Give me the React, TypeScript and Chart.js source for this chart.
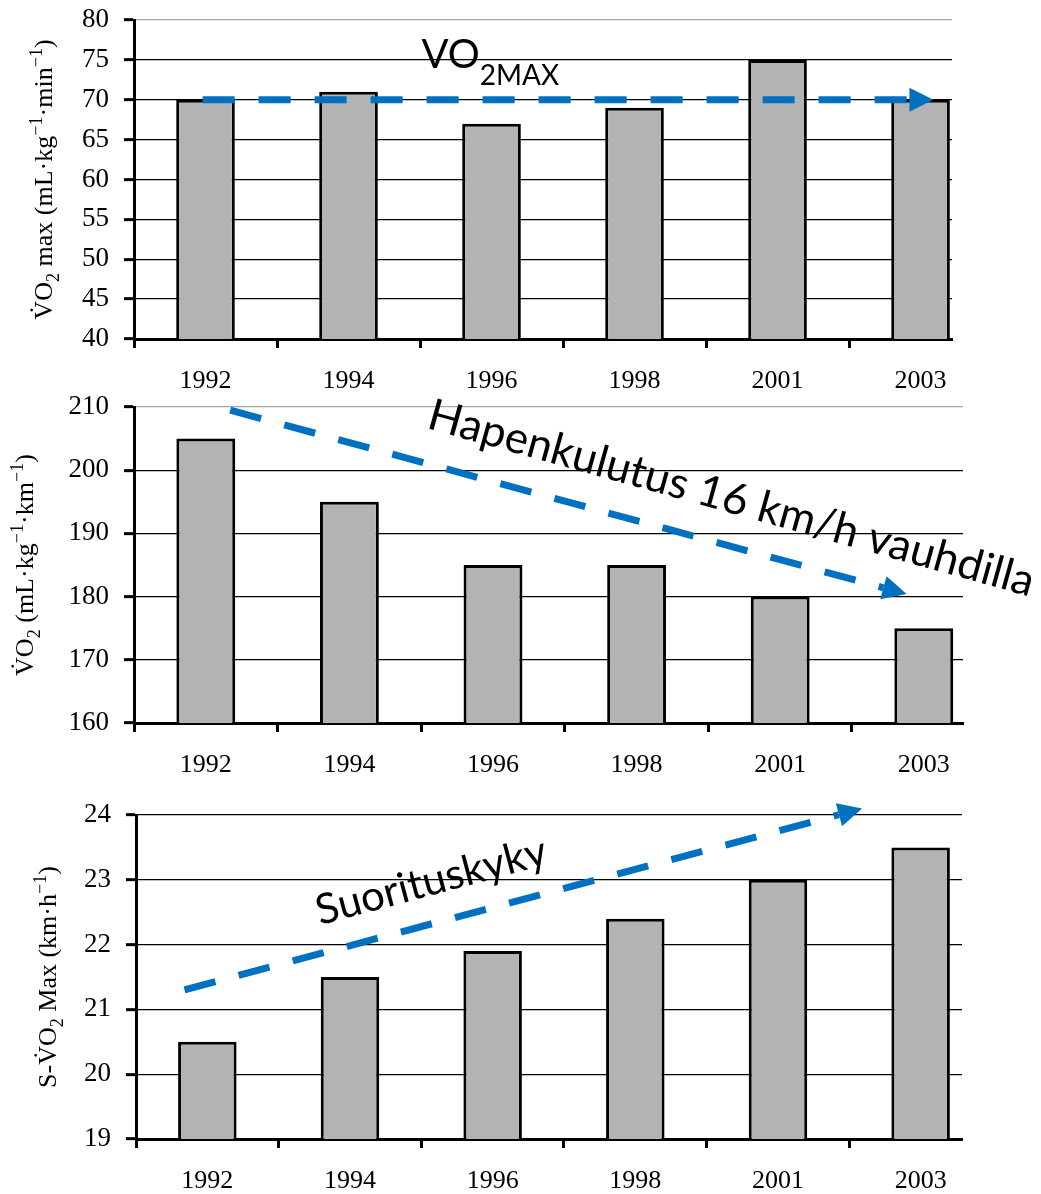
import React, { useEffect, useRef } from 'react';
import { Chart, registerables } from 'chart.js';

Chart.register(...registerables);

// ---------- data ----------
const years = ['1992', '1994', '1996', '1998', '2001', '2003'];
const vo2maxValues = [70, 71, 67, 69, 75, 70];
const vo2CostValues = [205, 195, 185, 185, 180, 175];
const speedValues = [20.5, 21.5, 21.9, 22.4, 23.0, 23.5];

const vo2maxTicks = [40, 45, 50, 55, 60, 65, 70, 75, 80];
const vo2CostTicks = [160, 170, 180, 190, 200, 210];
const speedTicks = [19, 20, 21, 22, 23, 24];

// trend arrows: [start, tip] as [category index, value]
const vo2maxTrend = [[-0.02, 70], [5.09, 70]];
const vo2CostTrend = [[0.17, 209.5], [4.88, 180.4]];
const speedTrend = [[-0.16, 21.3], [4.59, 24.1]];

// annotation anchors (baseline start) as [category index, value]
const vo2maxLabelAt = [1.51, 74.0];
const vo2CostLabelAt = [1.53, 206.7];
const speedLabelAt = [0.79, 22.3];

// ---------- styles ----------
const SERIF = '"Liberation Serif", "Times New Roman", serif';
const SANS = 'Lato, "Open Sans", sans-serif';
const BLUE = '#0070C0';
const BAR_FILL = '#b3b3b3';
const W = 1041;
const TOP_PAD = 40;

type Seg = { t: string; s?: number; dy?: number };

function drawRich(ctx: CanvasRenderingContext2D, segs: Seg[], size: number, family: string, align: 'left' | 'center') {
  const widths = segs.map((sg) => {
    ctx.font = `${size * (sg.s ?? 1)}px ${family}`;
    return ctx.measureText(sg.t).width;
  });
  const total = widths.reduce((a, b) => a + b, 0);
  let cx = align === 'center' ? -total / 2 : 0;
  ctx.textAlign = 'left';
  ctx.textBaseline = 'alphabetic';
  segs.forEach((sg, i) => {
    ctx.font = `${size * (sg.s ?? 1)}px ${family}`;
    ctx.fillText(sg.t, cx, (sg.dy ?? 0) * size);
    cx += widths[i];
  });
}

const SUB = 0.7;
const vo2maxTitle: Seg[] = [
  { t: 'V\u0307O' }, { t: '2', s: SUB, dy: 0.28 }, { t: ' max (mL·kg' }, { t: '−1', s: SUB, dy: -0.4 },
  { t: '·min' }, { t: '−1', s: SUB, dy: -0.4 }, { t: ')' },
];
const vo2CostTitle: Seg[] = [
  { t: 'V\u0307O' }, { t: '2', s: SUB, dy: 0.28 }, { t: ' (mL·kg' }, { t: '−1', s: SUB, dy: -0.4 },
  { t: '·km' }, { t: '−1', s: SUB, dy: -0.4 }, { t: ')' },
];
const speedTitle: Seg[] = [
  { t: 'S-V\u0307O' }, { t: '2', s: SUB, dy: 0.28 }, { t: ' Max (km·h' }, { t: '−1', s: SUB, dy: -0.4 }, { t: ')' },
];

type Panel = {
  bottom: number; values: number[]; yTicks: number[];
  left: number; right: number; areaTop: number; areaBottom: number; xMax: number;
  greyTop: boolean; title: Seg[]; titleX: number;
  trend: number[][]; label: Seg[]; labelAt: number[]; labelSize: number; labelAngle: number;
};

const panels: Panel[] = [
  {
    bottom: 395, values: vo2maxValues, yTicks: vo2maxTicks,
    left: 134, right: 952, areaTop: 20, areaBottom: 339, xMax: 5.22,
    greyTop: true, title: vo2maxTitle, titleX: 52,
    trend: vo2maxTrend, label: [{ t: 'VO' }, { t: '2MAX', s: 0.7, dy: 0.42 }], labelAt: vo2maxLabelAt, labelSize: 40, labelAngle: 0,
  },
  {
    bottom: 800, values: vo2CostValues, yTicks: vo2CostTicks,
    left: 134, right: 963, areaTop: 407, areaBottom: 723, xMax: 5.273,
    greyTop: true, title: vo2CostTitle, titleX: 33,
    trend: vo2CostTrend, label: [{ t: 'Hapenkulutus 16 km/h vauhdilla' }], labelAt: vo2CostLabelAt, labelSize: 44, labelAngle: 15.6,
  },
  {
    bottom: 1194, values: speedValues, yTicks: speedTicks,
    left: 136, right: 962, areaTop: 815, areaBottom: 1139, xMax: 5.29,
    greyTop: false, title: speedTitle, titleX: 56,
    trend: speedTrend, label: [{ t: 'Suorituskyky' }], labelAt: speedLabelAt, labelSize: 42, labelAngle: -15,
  },
];

function annotationPlugin(p: Panel) {
  return {
    id: 'annot',
    afterDatasetsDraw(chart: any) {
      const { ctx, scales } = chart;
      const x = scales.x;
      const y = scales.y;
      const [a, b] = p.trend;
      const x1 = x.getPixelForValue(a[0]);
      const y1 = y.getPixelForValue(a[1]);
      const x2 = x.getPixelForValue(b[0]);
      const y2 = y.getPixelForValue(b[1]);
      const ang = Math.atan2(y2 - y1, x2 - x1);
      const head = 24;
      const half = 12;
      const bx = x2 - head * Math.cos(ang);
      const by = y2 - head * Math.sin(ang);
      ctx.save();
      ctx.strokeStyle = BLUE;
      ctx.lineWidth = 7;
      ctx.lineCap = 'butt';
      ctx.setLineDash([32, 24]);
      ctx.beginPath();
      ctx.moveTo(x1, y1);
      ctx.lineTo(bx, by);
      ctx.stroke();
      ctx.setLineDash([]);
      ctx.fillStyle = BLUE;
      ctx.beginPath();
      ctx.moveTo(x2, y2);
      ctx.lineTo(bx - half * Math.sin(ang), by + half * Math.cos(ang));
      ctx.lineTo(bx + half * Math.sin(ang), by - half * Math.cos(ang));
      ctx.closePath();
      ctx.fill();
      ctx.restore();

      // annotation text
      ctx.save();
      ctx.translate(x.getPixelForValue(p.labelAt[0]), y.getPixelForValue(p.labelAt[1]));
      ctx.rotate((p.labelAngle * Math.PI) / 180);
      ctx.fillStyle = '#000';
      drawRich(ctx, p.label, p.labelSize, SANS, 'left');
      ctx.restore();

      // y-axis title
      const area = chart.chartArea;
      ctx.save();
      ctx.translate(p.titleX, (area.top + area.bottom) / 2);
      ctx.rotate(-Math.PI / 2);
      ctx.fillStyle = '#000';
      drawRich(ctx, p.title, 26, SERIF, 'center');
      ctx.restore();
    },
  };
}

function ChartPanel({ p }: { p: Panel }) {
  const ref = useRef<HTMLCanvasElement | null>(null);
  const top = p.areaTop - TOP_PAD;
  const height = p.bottom - top;
  useEffect(() => {
    if (!ref.current) return;
    const yMin = p.yTicks[0];
    const yMax = p.yTicks[p.yTicks.length - 1];
    const chart = new Chart(ref.current, {
      type: 'bar',
      data: {
        datasets: [
          {
            data: p.values.map((v, i) => ({ x: i, y: v })),
            backgroundColor: BAR_FILL,
            borderColor: '#000',
            borderWidth: 3,
            barPercentage: 0.82,
            categoryPercentage: 1,
          },
        ],
      },
      options: {
        responsive: false,
        animation: false,
        events: [],
        layout: { padding: { left: 0, top: TOP_PAD, right: W - p.right, bottom: 0 } },
        plugins: { legend: { display: false }, tooltip: { enabled: false } },
        scales: {
          x: {
            type: 'linear',
            min: -0.5,
            max: p.xMax,
            offset: false,
            bounds: 'data',
            afterBuildTicks: (s: any) => {
              const t: any[] = [];
              years.forEach((_, i) => {
                t.push({ value: i - 0.5 });
                t.push({ value: i });
              });
              s.ticks = t.filter((k) => k.value <= p.xMax);
            },
            afterFit: (s: any) => {
              s.height = p.bottom - p.areaBottom;
            },
            ticks: {
              autoSkip: false,
              maxRotation: 0,
              minRotation: 0,
              padding: 18,
              color: '#000',
              font: { family: SERIF, size: 26 },
              callback: (v: any) => (Number.isInteger(v) ? years[v] : ''),
            },
            grid: {
              offset: false,
              drawOnChartArea: false,
              drawTicks: true,
              tickLength: 9,
              tickWidth: 3,
              tickColor: (c: any) => (c.tick && Number.isInteger(c.tick.value) ? 'rgba(0,0,0,0)' : '#000'),
            },
            border: { display: true, width: 3, color: '#000' },
          },
          y: {
            type: 'linear',
            min: yMin,
            max: yMax,
            afterBuildTicks: (s: any) => {
              s.ticks = p.yTicks.map((v) => ({ value: v }));
            },
            afterFit: (s: any) => {
              s.width = p.left;
            },
            ticks: {
              padding: 15,
              color: '#000',
              font: { family: SERIF, size: 27 },
            },
            grid: {
              color: (c: any) => (p.greyTop && c.tick && c.tick.value === yMax ? '#a6a6a6' : '#000'),
              lineWidth: 1.3,
              drawTicks: true,
              tickLength: 10,
              tickWidth: 3,
              tickColor: '#000',
            },
            border: { display: true, width: 3, color: '#000' },
          },
        },
      },
      plugins: [annotationPlugin(p)],
    } as any);
    return () => chart.destroy();
  }, [p]);
  return (
    <canvas
      ref={ref}
      width={W}
      height={height}
      style={{ position: 'absolute', left: 0, top, display: 'block' }}
    />
  );
}

export default function App() {
  return (
    <div style={{ position: 'absolute', left: 0, top: 0, width: W, height: 1194, background: '#fff', overflow: 'hidden' }}>
      {panels.map((p, i) => (
        <ChartPanel key={i} p={p} />
      ))}
    </div>
  );
}
